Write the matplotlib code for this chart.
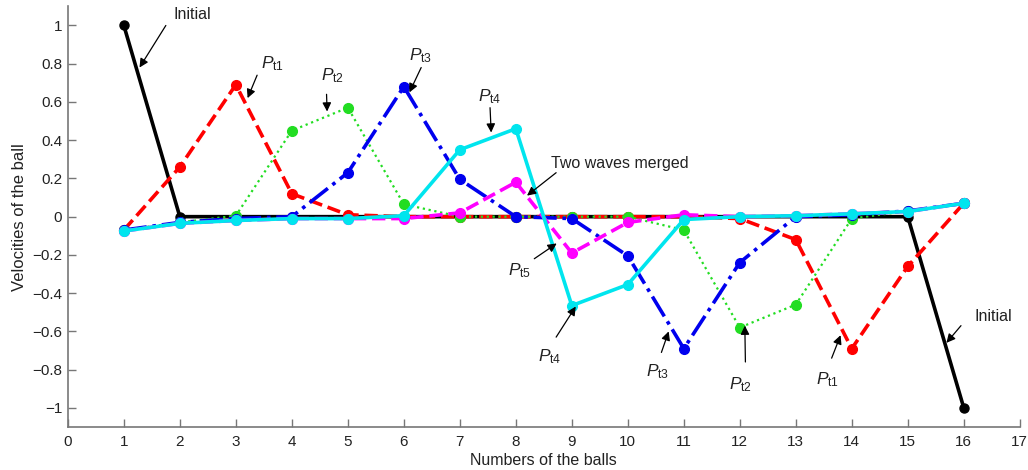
import numpy as np
import matplotlib
matplotlib.use("Agg")
import matplotlib.pyplot as plt

plt.rcParams['font.family'] = ['Liberation Sans', 'DejaVu Sans']
plt.rcParams['mathtext.fontset'] = 'custom'
plt.rcParams['mathtext.rm'] = 'Liberation Sans'
plt.rcParams['mathtext.it'] = 'Liberation Sans:italic'

# velocity of each ball at successive instants
balls = np.arange(1, 17)
v_initial = [1.0, 0.0, 0.0, 0.0, 0.0, 0.0, 0.0, 0.0, 0.0, 0.0, 0.0, 0.0, 0.0, 0.0, 0.0, -1.0]
v_t1 = [-0.07, 0.26, 0.69, 0.12, 0.01, 0.0, 0.0, 0.0, 0.0, 0.0, 0.0, -0.01, -0.12, -0.69, -0.26, 0.07]
v_t2 = [-0.07, -0.03, 0.005, 0.45, 0.57, 0.065, 0.0, 0.0, 0.0, 0.0, -0.07, -0.58, -0.46, -0.01, 0.03, 0.07]
v_t3 = [-0.07, -0.03, -0.01, 0.0, 0.23, 0.68, 0.195, 0.0, -0.01, -0.205, -0.69, -0.24, 0.0, 0.01, 0.03, 0.07]
v_t5 = [-0.075, -0.035, -0.02, -0.01, -0.01, -0.01, 0.02, 0.18, -0.19, -0.03, 0.01, 0.0, 0.005, 0.015, 0.027, 0.07]
v_t4 = [-0.075, -0.035, -0.02, -0.01, -0.01, 0.005, 0.35, 0.46, -0.465, -0.355, -0.015, 0.0, 0.005, 0.015, 0.027, 0.07]

y_ticks = [-1, -0.8, -0.6, -0.4, -0.2, 0, 0.2, 0.4, 0.6, 0.8, 1]
y_labels = ['\u22121', '\u22120.8', '\u22120.6', '\u22120.4', '\u22120.2', '0',
            '0.2', '0.4', '0.6', '0.8', '1']

# (label, text position, arrow tail, arrow head) in data units
notes = [
    ('Initial', (2.23, 1.055), (1.75, 1.0), (1.28, 0.78)),
    (r'$P_{\rm t1}$', (3.65, 0.80), (3.38, 0.74), (3.21, 0.62)),
    (r'$P_{\rm t2}$', (4.72, 0.74), (4.62, 0.64), (4.63, 0.55)),
    (r'$P_{\rm t3}$', (6.30, 0.84), (6.31, 0.78), (6.10, 0.65)),
    (r'$P_{\rm t4}$', (7.53, 0.63), (7.54, 0.57), (7.56, 0.44)),
    ('Two waves merged', (9.86, 0.28), (8.72, 0.23), (8.20, 0.11)),
    (r'$P_{\rm t5}$', (8.07, -0.28), (8.33, -0.22), (8.73, -0.14)),
    (r'$P_{\rm t4}$', (8.60, -0.73), (8.72, -0.63), (9.07, -0.47)),
    (r'$P_{\rm t3}$', (10.53, -0.81), (10.60, -0.71), (10.73, -0.60)),
    (r'$P_{\rm t2}$', (12.02, -0.88), (12.10, -0.76), (12.09, -0.57)),
    (r'$P_{\rm t1}$', (13.57, -0.85), (13.64, -0.74), (13.80, -0.62)),
    ('Initial', (16.52, -0.52), (15.95, -0.57), (15.69, -0.66)),
]

fig = plt.figure(figsize=(10.28, 4.70), dpi=100)
ax = fig.add_axes([0.066, 0.0915, 0.926, 0.895])

ax.plot(balls, v_initial, '-', color='black', lw=2.6, marker='o', ms=6.5)
ax.plot(balls, v_t1, '--', color='#ff0000', lw=2.6, marker='o', ms=7)
ax.plot(balls, v_t2, ':', color='#22dd22', lw=1.6, marker='o', ms=7)
ax.plot(balls, v_t3, '-.', color='#0000ee', lw=2.6, marker='o', ms=7)
ax.plot(balls, v_t5, '--', color='#ff00ff', lw=2.6, marker='o', ms=7)
ax.plot(balls, v_t4, '-', color='#00e5ee', lw=2.6, marker='o', ms=7)

for label, txt, tail, head in notes:
    size = 12.5 if label.startswith('$') else 11.5
    ax.text(txt[0], txt[1], label, fontsize=size, color='#222222',
            ha='center', va='center')
    ax.annotate('', xy=head, xytext=tail,
                arrowprops=dict(arrowstyle='-|>', color='black', lw=0.9,
                                mutation_scale=13, shrinkA=0, shrinkB=0))

ax.set_xlim(0, 17)
ax.set_ylim(-1.1, 1.1)
ax.set_xticks(np.arange(0, 18))
ax.set_yticks(y_ticks)
ax.set_yticklabels(y_labels)
ax.tick_params(direction='in', length=6, width=1, colors='#777777',
               labelcolor='#222222', labelsize=11)
ax.tick_params(axis='y', pad=4)
ax.tick_params(axis='x', pad=6)
for side in ['top', 'right']:
    ax.spines[side].set_visible(False)
for side in ['left', 'bottom']:
    ax.spines[side].set_color('#777777')
    ax.spines[side].set_linewidth(1.2)

ax.set_xlabel('Numbers of the balls', fontsize=11.5, color='#222222', labelpad=3)
ax.set_ylabel('Velocities of the ball', fontsize=12, color='#222222', labelpad=4)

fig.savefig('out.png', dpi=100)
